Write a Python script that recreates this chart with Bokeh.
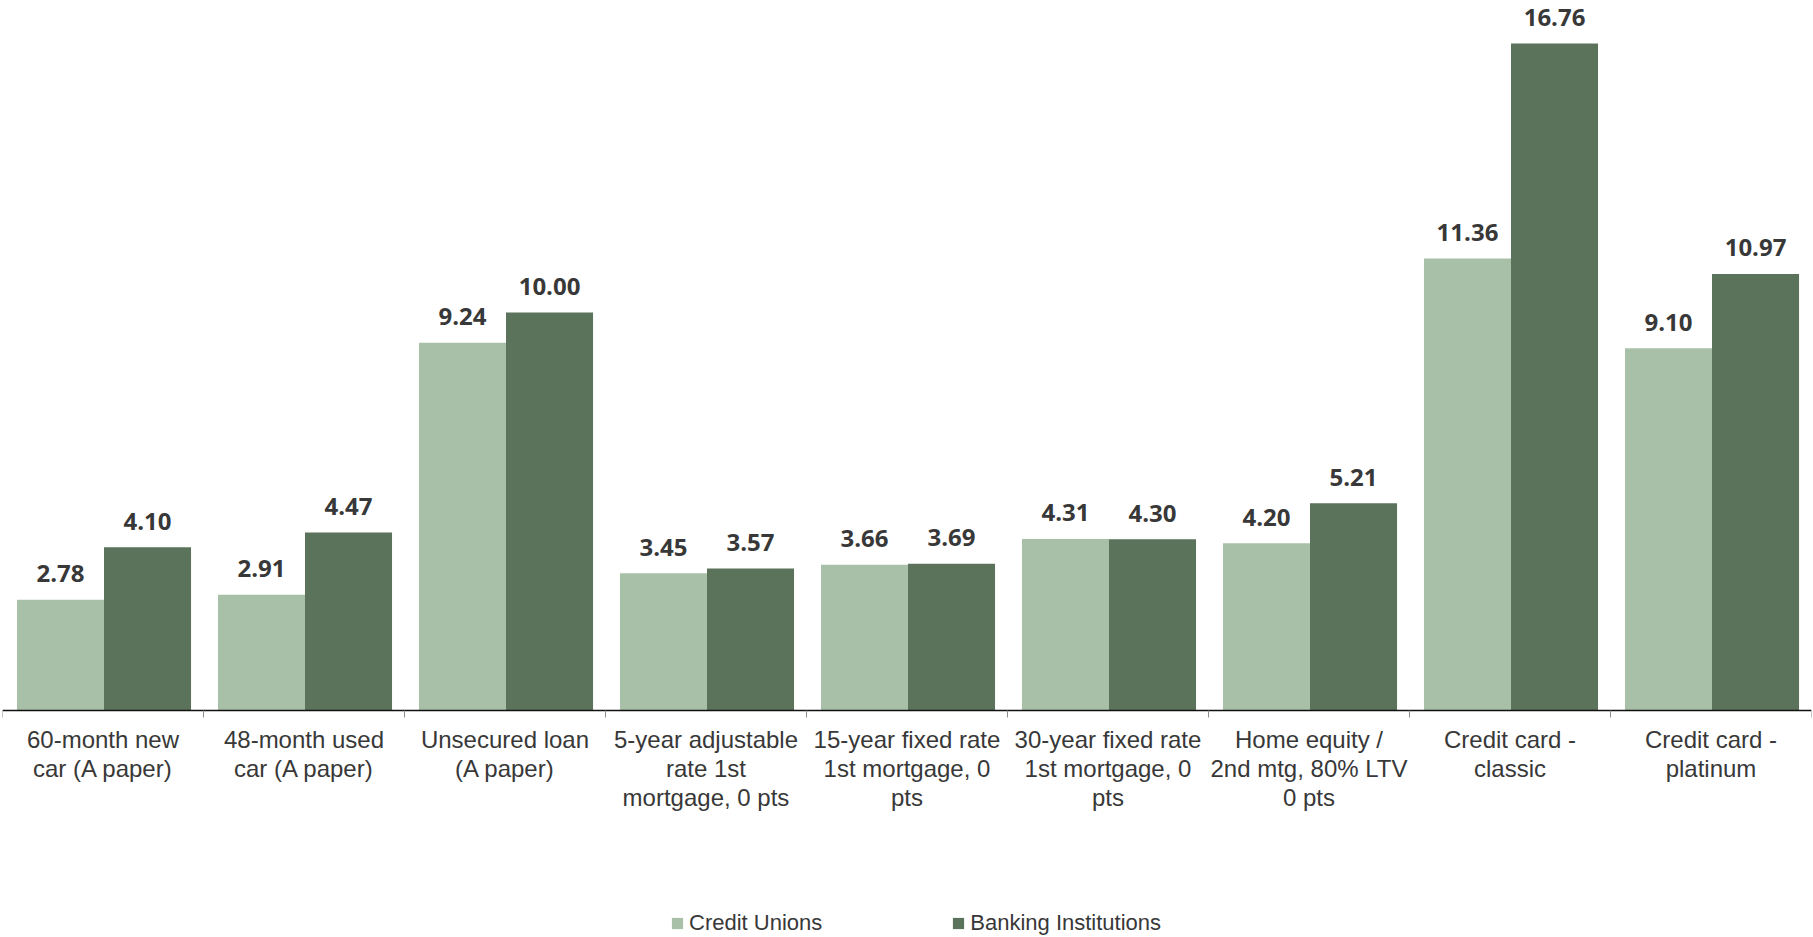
import numpy as np
from bokeh.plotting import figure
from bokeh.models import Range1d, FixedTicker, Legend, LegendItem
from bokeh.core.properties import value
from bokeh.embed import file_html
from bokeh.resources import INLINE

# Loan rate comparison data
categories = [
    "60-month new\ncar (A paper)",
    "48-month used\ncar (A paper)",
    "Unsecured loan\n(A paper)",
    "5-year adjustable\nrate 1st\nmortgage, 0 pts",
    "15-year fixed rate\n1st mortgage, 0\npts",
    "30-year fixed rate\n1st mortgage, 0\npts",
    "Home equity /\n2nd mtg, 80% LTV\n0 pts",
    "Credit card -\nclassic",
    "Credit card -\nplatinum",
]
credit_unions = [2.78, 2.91, 9.24, 3.45, 3.66, 4.31, 4.20, 11.36, 9.10]
banking_institutions = [4.10, 4.47, 10.00, 3.57, 3.69, 4.30, 5.21, 16.76, 10.97]
series_names = ["Credit Unions", "Banking Institutions"]

CU_COLOR = "#a8c0a8"
BI_COLOR = "#5a735a"
LABEL_COLOR = "#383838"

W, H = 1813, 937
BASE_PX = 710          # pixel row of the zero line
Y_TOP = 17.84          # value at the top edge of the chart
y_bottom = -Y_TOP * (H - BASE_PX) / BASE_PX   # room under the zero line for labels and legend

n = len(categories)
idx = np.arange(n)
centers = idx + 0.505
bar_w = 0.433
cu_x = centers - bar_w / 2
bi_x = centers + bar_w / 2

p = figure(
    width=W, height=H,
    x_range=Range1d(0, n), y_range=Range1d(y_bottom, Y_TOP),
    output_backend="svg", toolbar_location=None,
    min_border_left=2, min_border_right=2, min_border_top=0, min_border_bottom=0,
)
p.outline_line_color = None
p.xgrid.visible = False
p.ygrid.visible = False
p.yaxis.visible = False
p.background_fill_color = "white"
p.border_fill_color = "white"

r_cu = p.vbar(x=cu_x, top=credit_unions, width=bar_w, bottom=0,
              fill_color=CU_COLOR, line_color=None)
r_bi = p.vbar(x=bi_x, top=banking_institutions, width=bar_w, bottom=0,
              fill_color=BI_COLOR, line_color=None)

label_font = value("Open Sans")
for xs, vals in ((cu_x, credit_unions), (bi_x, banking_institutions)):
    p.text(x=xs, y=vals, text=[f"{v:.2f}" for v in vals],
           text_align="center", text_baseline="alphabetic", y_offset=-26,
           text_font=label_font, text_font_style="bold", text_font_size="24px",
           text_color=LABEL_COLOR)

# Category axis pinned at zero: labels at centers, tick marks at category boundaries
xa = p.xaxis[0]
xa.fixed_location = 0
xa.ticker = FixedTicker(ticks=list(idx + 0.5), minor_ticks=list(range(n + 1)))
xa.major_label_overrides = {float(i + 0.5): c for i, c in enumerate(categories)}
xa.major_tick_out = 0
xa.major_tick_in = 0
xa.minor_tick_out = 7
xa.minor_tick_in = 0
xa.minor_tick_line_color = "#8c8c8c"
xa.axis_line_color = "#111111"
xa.axis_line_width = 1.4
xa.major_label_standoff = 8
xa.major_label_text_font = "Liberation Sans"
xa.major_label_text_font_size = "24px"
xa.major_label_text_line_height = 1.08
xa.major_label_text_color = LABEL_COLOR
xa.major_label_text_align = "center"

legend = Legend(
    items=[LegendItem(label=series_names[0], renderers=[r_cu]),
           LegendItem(label=series_names[1], renderers=[r_bi])],
    orientation="horizontal",
    location=(668, 1),
    glyph_width=14, glyph_height=14,
    label_standoff=5, spacing=129, padding=0, margin=0,
    label_text_font="Liberation Sans", label_text_font_size="22px",
    label_text_color=LABEL_COLOR,
    border_line_color=None, background_fill_alpha=0,
)
p.add_layout(legend)

open("out.html", "w").write(file_html(p, INLINE))
